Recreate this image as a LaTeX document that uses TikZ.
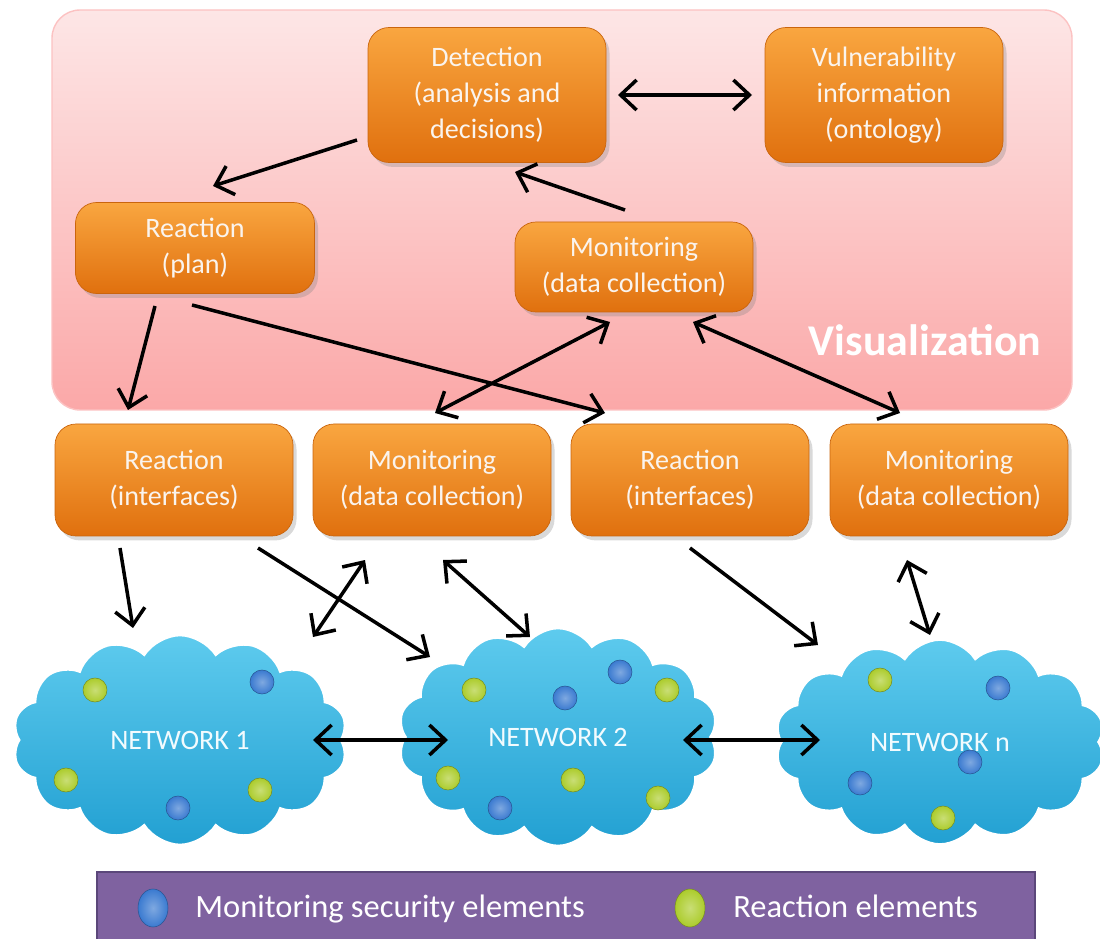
\documentclass[tikz,border=0pt]{standalone}
\usepackage{fontspec}
\setmainfont{Carlito}
\usetikzlibrary{arrows.meta,calc,shapes.symbols,shapes.geometric,shadows}
\definecolor{orTop}{HTML}{F9A640}
\definecolor{orBot}{HTML}{E0700E}
\definecolor{pinkTop}{HTML}{FDE6E6}
\definecolor{pinkBot}{HTML}{FBA8A8}
\definecolor{cloudTop}{HTML}{5ECBEE}
\definecolor{cloudBot}{HTML}{22A0D2}
\definecolor{dotBlue}{HTML}{3A7AD0}
\definecolor{dotGreen}{HTML}{ACCC2C}
\definecolor{legFill}{HTML}{7F62A0}
\definecolor{legEdge}{HTML}{5B477A}
\definecolor{boxText}{HTML}{FAF4EE}
\tikzset{
  obox/.style={draw=orBot!90!black, line width=0.4pt, rounded corners=12pt,
    top color=orTop, bottom color=orBot, text=boxText, align=center,
    font=\fontsize{16}{20.5}\selectfont, inner sep=0pt,
    drop shadow={shadow xshift=2pt, shadow yshift=-2.5pt, opacity=0.3}},
  netcloud/.style={cloud, cloud puffs=14, cloud puff arc=115, cloud ignores aspect,
    top color=cloudTop, bottom color=cloudBot, draw=white, line width=1.5pt,
    text=white!92!cloudTop, font=\fontsize{16}{19}\selectfont, inner sep=0pt},
  bdot/.style={circle, minimum size=24*0.02cm, inner sep=0pt, draw=dotBlue!70!black, line width=0.3pt,
    inner color=dotBlue!65!white, outer color=dotBlue},
  gdot/.style={circle, minimum size=24*0.02cm, inner sep=0pt, draw=dotGreen!70!black, line width=0.3pt,
    inner color=dotGreen!65!white, outer color=dotGreen},
  legtext/.style={text=white, anchor=base west, font=\fontsize{18.5}{20}\selectfont, inner sep=0pt},
  arr/.style={-{Straight Barb[length=3.2mm,width=6mm]}, line width=2pt, black},
  darr/.style={{Straight Barb[length=3.2mm,width=6mm]}-{Straight Barb[length=3.2mm,width=6mm]}, line width=2pt, black}
}
\begin{document}
\begin{tikzpicture}[x=0.02cm,y=-0.02cm]
\useasboundingbox (0,0) rectangle (1100,939);
% visualization panel
\node[draw=pinkBot!70!white, line width=0.8pt, rounded corners=16pt, top color=pinkTop, bottom color=pinkBot,
  minimum width=1020*0.02cm, minimum height=400*0.02cm, inner sep=0pt] (panel) at (562,210) {};
\node[text=white, font=\fontsize{25}{28}\selectfont\bfseries] (vislabel) at (925,340) {Visualization};
% upper boxes
\node[obox, minimum width=238*0.02cm, minimum height=135*0.02cm] (det) at (487,95) {Detection\\(analysis and\\decisions)};
\node[obox, minimum width=238*0.02cm, minimum height=135*0.02cm] (vul) at (884,95) {Vulnerability\\information\\(ontology)};
\node[obox, minimum width=239*0.02cm, minimum height=91*0.02cm] (rplan) at (195,248) {Reaction\\(plan)};
\node[obox, minimum width=238*0.02cm, minimum height=90*0.02cm] (monu) at (634,267) {Monitoring\\(data collection)};
% row boxes
\node[obox, minimum width=238*0.02cm, minimum height=112*0.02cm] (r1) at (174,480) {Reaction\\(interfaces)};
\node[obox, minimum width=238*0.02cm, minimum height=112*0.02cm] (m2) at (432,480) {Monitoring\\(data collection)};
\node[obox, minimum width=238*0.02cm, minimum height=112*0.02cm] (r3) at (690,480) {Reaction\\(interfaces)};
\node[obox, minimum width=238*0.02cm, minimum height=112*0.02cm] (m4) at (949,480) {Monitoring\\(data collection)};
% clouds
\node[netcloud, minimum width=335*0.02cm, minimum height=210*0.02cm] (net1) at (180,740) {NETWORK 1};
\node[netcloud, minimum width=320*0.02cm, minimum height=218*0.02cm] (net2) at (558,737) {NETWORK 2};
\node[netcloud, minimum width=330*0.02cm, minimum height=205*0.02cm] (netn) at (940,742) {NETWORK n};
% dots network 1
\node[gdot] (a1) at (95,690) {};
\node[bdot] (a2) at (262,682) {};
\node[gdot] (a3) at (66,780) {};
\node[gdot] (a4) at (260,790) {};
\node[bdot] (a5) at (178,808) {};
% dots network 2
\node[gdot] (b1) at (474,690) {};
\node[bdot] (b2) at (565,698) {};
\node[bdot] (b3) at (620,672) {};
\node[gdot] (b4) at (667,690) {};
\node[gdot] (b5) at (448,778) {};
\node[gdot] (b6) at (573,780) {};
\node[bdot] (b7) at (500,808) {};
\node[gdot] (b8) at (658,798) {};
% dots network n
\node[gdot] (c1) at (880,680) {};
\node[bdot] (c2) at (998,688) {};
\node[bdot] (c3) at (970,762) {};
\node[bdot] (c4) at (860,783) {};
\node[gdot] (c5) at (943,818) {};
% legend
\node[draw=legEdge, line width=1.5pt, fill=legFill, minimum width=938*0.02cm, minimum height=74*0.02cm, inner sep=0pt] (legend) at (566,909) {};
\node[bdot, ellipse, minimum width=30*0.02cm, minimum height=38*0.02cm] (lb) at (153,908) {};
\node[legtext] (lbt) at (195,917) {Monitoring security elements};
\node[gdot, ellipse, minimum width=30*0.02cm, minimum height=38*0.02cm] (lg) at (690,908) {};
\node[legtext] (lgt) at (733,917) {Reaction elements};
% arrows
\draw[darr] ($(det)+(131,0)$) -- ($(vul)+(-132,0)$);
\draw[arr] ($(det)+(-130,45)$) -- ($(rplan)+(18,-62)$);
\draw[arr] ($(monu)+(-9,-57)$) -- ($(det)+(28,77)$);
\draw[arr] ($(rplan)+(-40,58)$) -- ($(r1)+(-46,-70)$);
\draw[arr] ($(rplan)+(-3,57)$) -- ($(r3)+(-85,-67)$);
\draw[darr] ($(monu)+(-24,55)$) -- ($(m2)+(3,-67)$);
\draw[darr] ($(monu)+(59,55)$) -- ($(m4)+(-49,-67)$);
\draw[arr] ($(r1)+(-54,68)$) -- ($(net1)+(-47,-112)$);
\draw[arr] ($(r1)+(84,68)$) -- ($(net2)+(-128,-80)$);
\draw[darr] ($(m2)+(-67,80)$) -- ($(net1)+(133,-103)$);
\draw[darr] ($(m2)+(11,80)$) -- ($(net2)+(-28,-100)$);
\draw[arr] ($(r3)+(0,68)$) -- ($(netn)+(-122,-97)$);
\draw[darr] ($(m4)+(-42,80)$) -- ($(netn)+(-10,-107)$);
\draw[darr] ($(net1)+(133,0)$) -- ($(net2)+(-110,3)$);
\draw[darr] ($(net2)+(125,3)$) -- ($(netn)+(-120,-2)$);
\end{tikzpicture}
\end{document}
